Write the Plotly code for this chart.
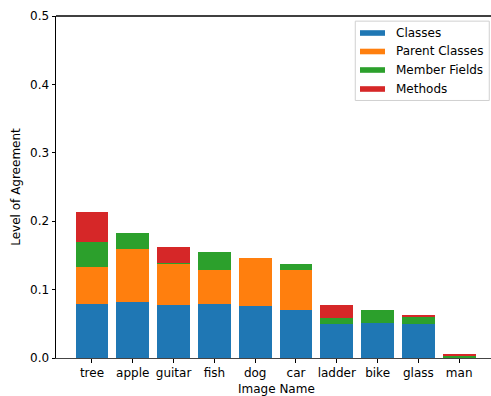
import plotly.graph_objects as go

# Agreement levels per image, split by UML element type
images = ["tree", "apple", "guitar", "fish", "dog", "car", "ladder", "bike", "glass", "man"]
classes = [0.079, 0.082, 0.078, 0.079, 0.076, 0.070, 0.049, 0.051, 0.050, 0.000]
parent_classes = [0.054, 0.078, 0.060, 0.050, 0.070, 0.059, 0.000, 0.000, 0.000, 0.000]
member_fields = [0.037, 0.023, 0.001, 0.026, 0.000, 0.008, 0.010, 0.019, 0.010, 0.004]
methods = [0.044, 0.000, 0.024, 0.000, 0.000, 0.000, 0.019, 0.000, 0.002, 0.001]

series = [
    ("Classes", classes, "#1f77b4"),
    ("Parent Classes", parent_classes, "#ff7f0e"),
    ("Member Fields", member_fields, "#2ca02c"),
    ("Methods", methods, "#d62728"),
]

FS = 12
txt = dict(family="DejaVu Sans", size=FS, color="#000000")

fig = go.Figure()
for name, vals, color in series:
    fig.add_trace(go.Bar(
        x=list(range(len(images))), y=vals, name=name,
        marker=dict(color=color, line=dict(width=0)),
        width=0.8,
    ))

# Hand-drawn legend box in the upper right corner
shapes = [
    dict(type="rect", xref="paper", yref="paper", x0=0.688, x1=0.996, y0=0.753, y1=0.985,
         line=dict(color="#d0d0d0", width=1), fillcolor="rgba(255,255,255,0.8)", layer="above"),
    # top spine
    dict(type="line", xref="paper", yref="paper", x0=0, x1=1, y0=1, y1=1,
         line=dict(color="#000000", width=1.5)),
]
annotations = []
legend_y = [33, 51.5, 70, 89]
for (name, _, color), py in zip(series, legend_y):
    yy = (358 - py) / 342
    shapes.append(dict(type="rect", xref="paper", yref="paper",
                       x0=(360 - 56) / 435, x1=(385 - 56) / 435,
                       y0=yy - 2.8 / 342, y1=yy + 2.8 / 342,
                       fillcolor=color, line=dict(width=0), layer="above"))
    annotations.append(dict(xref="paper", yref="paper", x=(394 - 56) / 435, y=yy,
                            text=name, showarrow=False, xanchor="left", yanchor="middle",
                            font=txt))

# x-axis title, placed just below the tick labels
annotations.append(dict(xref="paper", yref="paper", x=(276 - 56) / 435, y=(358 - 388.5) / 342,
                        text="Image Name", showarrow=False, xanchor="center", yanchor="middle",
                        font=txt))

fig.update_layout(
    width=491, height=396,
    margin=dict(l=56, r=0, t=16, b=38),
    barmode="stack",
    bargap=0.2,
    showlegend=False,
    plot_bgcolor="white", paper_bgcolor="white",
    font=txt,
    shapes=shapes,
    annotations=annotations,
    xaxis=dict(
        range=[-0.882, 9.78],
        tickmode="array", tickvals=list(range(len(images))), ticktext=images,
        ticks="outside", ticklen=3.5, tickcolor="#000000", tickwidth=1,
        showline=True, linecolor="#444444", linewidth=1,
        showgrid=False, zeroline=False,
        tickfont=txt,
    ),
    yaxis=dict(
        range=[0, 0.5],
        tickmode="array", tickvals=[0, 0.1, 0.2, 0.3, 0.4, 0.5],
        ticktext=["0.0", "0.1", "0.2", "0.3", "0.4", "0.5"],
        ticks="outside", ticklen=3.5, tickcolor="#000000", tickwidth=1,
        showline=True, linecolor="#000000", linewidth=1,
        showgrid=False, zeroline=False,
        tickfont=txt,
        title=dict(text="Level of Agreement", standoff=6, font=txt),
    ),
)

fig.write_html("out.html")
